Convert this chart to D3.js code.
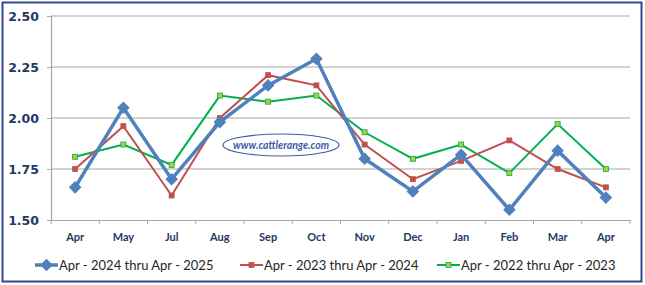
<!DOCTYPE html>
<html>
<head>
<meta charset="utf-8">
<script src="https://cdn.jsdelivr.net/npm/d3@7"></script>
<style>
  body { margin: 0; background: #fff; }
  svg { display: block; }
</style>
</head>
<body>
<svg id="chart" width="645" height="285"></svg>
<script>
// values
var months = ['Apr', 'May', 'Jul', 'Aug', 'Sep', 'Oct', 'Nov', 'Dec', 'Jan', 'Feb', 'Mar', 'Apr '];
var yTicks = [1.50, 1.75, 2.00, 2.25, 2.50];
var seriesNames = ['Apr - 2024 thru Apr - 2025', 'Apr - 2023 thru Apr - 2024', 'Apr - 2022 thru Apr - 2023'];
var s2024 = [1.66, 2.05, 1.70, 1.98, 2.16, 2.29, 1.80, 1.64, 1.82, 1.55, 1.84, 1.61];
var s2023 = [1.75, 1.96, 1.62, 2.00, 2.21, 2.16, 1.87, 1.70, 1.79, 1.89, 1.75, 1.66];
var s2022 = [1.81, 1.87, 1.77, 2.11, 2.08, 2.11, 1.93, 1.80, 1.87, 1.73, 1.97, 1.75];

var series = [
    { name: seriesNames[0], values: s2024, color: '#4f81bd', width: 3.5, marker: 'diamond' },
    { name: seriesNames[1], values: s2023, color: '#c0504d', width: 2, marker: 'square', fill: '#c0504d' },
    { name: seriesNames[2], values: s2022, color: '#00b050', width: 2, marker: 'square', fill: '#b5cc34' }
];

const svg = d3.select('#chart');
const plotLeft = 51, plotRight = 630, plotTop = 16, plotBottom = 220;

// outer frame
svg.append('rect')
    .attr('x', 2.5).attr('y', 2.5)
    .attr('width', 639).attr('height', 279)
    .attr('fill', '#fff')
    .attr('stroke', '#2e4a8c')
    .attr('stroke-width', 2);

const xScale = d3.scaleBand()
    .domain(months)
    .range([plotLeft, plotRight]);

const yScale = d3.scaleLinear()
    .domain([1.5, 2.5])
    .range([plotBottom, plotTop]);

// gridlines
svg.append('g')
    .selectAll('line')
    .data(yTicks.slice(1))
    .enter()
    .append('line')
    .attr('x1', plotLeft).attr('x2', plotRight)
    .attr('y1', d => yScale(d)).attr('y2', d => yScale(d))
    .attr('stroke', '#a6a6a6')
    .attr('stroke-width', 1.2);

// y axis
const yAxis = svg.append('g')
    .attr('transform', `translate(${plotLeft},0)`)
    .call(d3.axisLeft(yScale).tickValues(yTicks).tickFormat(d3.format('.2f')).tickSize(4).tickPadding(8));
yAxis.select('.domain').attr('stroke', '#a6a6a6').attr('stroke-width', 1.2);
yAxis.selectAll('.tick line').attr('stroke', '#a6a6a6');
yAxis.selectAll('text')
    .attr('font-family', 'DejaVu Sans, Verdana, sans-serif')
    .attr('font-weight', 'bold')
    .attr('font-size', 12.5)
    .attr('fill', '#1f3864');

// x axis, ticks between the categories
const xAxis = svg.append('g')
    .attr('transform', `translate(0,${plotBottom})`)
    .call(d3.axisBottom(xScale).tickSize(0).tickPadding(13));
xAxis.select('.domain').attr('stroke', '#a6a6a6').attr('stroke-width', 1.2);
xAxis.selectAll('text')
    .attr('font-family', 'Lato, "Open Sans", sans-serif')
    .attr('font-weight', 'bold')
    .attr('font-size', 11)
    .attr('fill', '#1f3864');
xAxis.selectAll('.sep')
    .data(months.map(m => xScale(m)).concat([plotRight]))
    .enter()
    .append('line')
    .attr('class', 'sep')
    .attr('x1', d => d).attr('x2', d => d)
    .attr('y1', 0).attr('y2', 4)
    .attr('stroke', '#a6a6a6');

// watermark
const wm = svg.append('g');
wm.append('ellipse')
    .attr('cx', 281).attr('cy', 145)
    .attr('rx', 58).attr('ry', 11)
    .attr('fill', '#fff')
    .attr('stroke', '#3e5aa8')
    .attr('stroke-width', 1.2);
wm.append('text')
    .attr('x', 281).attr('y', 149)
    .attr('text-anchor', 'middle')
    .attr('font-family', 'Lato, sans-serif')
    .attr('font-style', 'italic')
    .attr('font-weight', 'bold')
    .attr('font-size', 10.5)
    .attr('fill', '#3e5aa8')
    .text('www.cattlerange.com');

const x = (d, i) => xScale(months[i]) + xScale.bandwidth() / 2;
const line = d3.line().x(x).y(d => yScale(d));

function drawMarker(g, type, color, fill, cx, cy) {
    if (type === 'diamond') {
        g.append('path')
            .attr('d', d3.symbol(d3.symbolSquare, 80)())
            .attr('transform', `translate(${cx},${cy}) rotate(45)`)
            .attr('fill', color);
    } else {
        g.append('rect')
            .attr('x', cx - 2.5).attr('y', cy - 2.5)
            .attr('width', 5).attr('height', 5)
            .attr('fill', fill)
            .attr('stroke', color)
            .attr('stroke-width', 0.8);
    }
}

// draw back to front so the blue series sits on top
series.slice().reverse().forEach(function (s) {
    const g = svg.append('g');
    g.append('path')
        .datum(s.values)
        .attr('d', line)
        .attr('fill', 'none')
        .attr('stroke', s.color)
        .attr('stroke-width', s.width)
        .attr('stroke-linejoin', 'miter');
    s.values.forEach(function (v, i) {
        drawMarker(g, s.marker, s.color, s.fill, x(v, i), yScale(v));
    });
});

// legend
const legendX = [35, 240, 437];
series.forEach(function (s, i) {
    const g = svg.append('g').attr('transform', `translate(${legendX[i]},265)`);
    g.append('line')
        .attr('x1', 0).attr('x2', 23)
        .attr('stroke', s.color)
        .attr('stroke-width', s.width);
    drawMarker(g, s.marker, s.color, s.fill, 11.5, 0);
    g.append('text')
        .attr('x', 24).attr('y', 4.5)
        .attr('font-family', 'Lato, "Open Sans", sans-serif')
        .attr('font-size', 13)
        .attr('fill', '#262626')
        .text(s.name);
});
</script>
</body>
</html>
